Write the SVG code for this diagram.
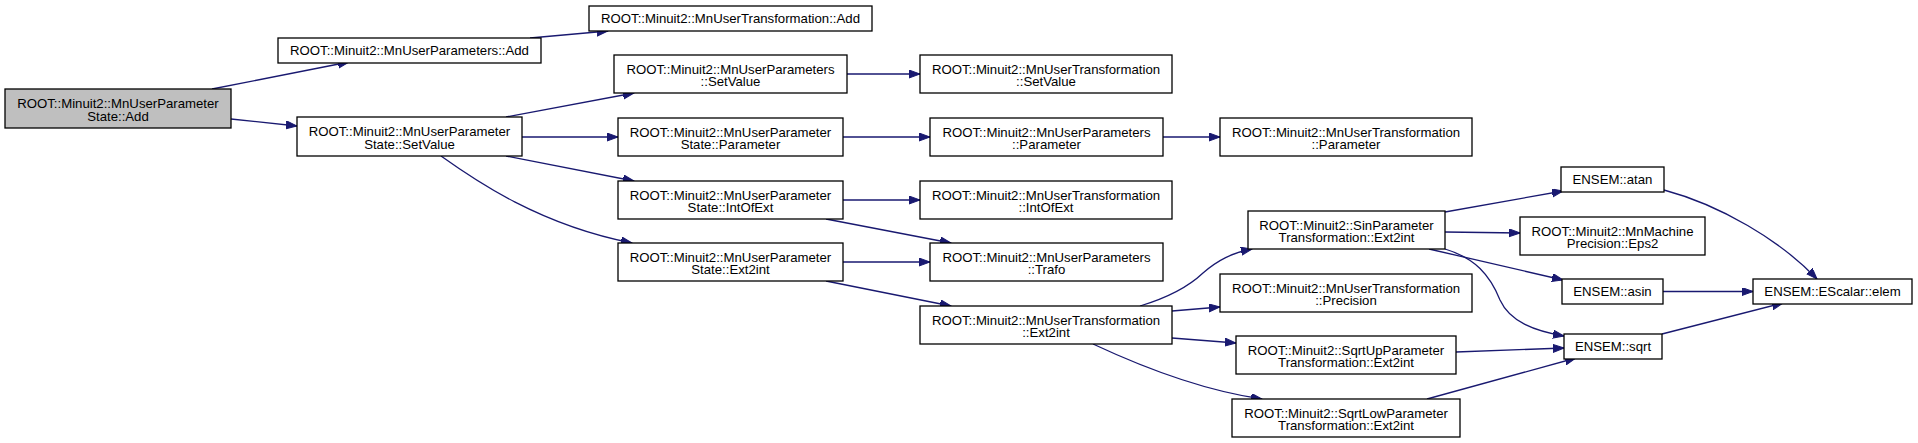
<svg xmlns="http://www.w3.org/2000/svg" width="1918" height="443" viewBox="0 0 1918 443">
<style>
.n rect{fill:#fff;stroke:#000;stroke-width:1.3}
.n.g rect{fill:#bfbfbf}
.n text{font-family:"Liberation Sans",Arial,Helvetica,sans-serif;font-size:13.2px;fill:#000;text-anchor:middle}
.e path{fill:none;stroke:#191970;stroke-width:1.3;marker-end:url(#ah)}
</style>
<defs>
<marker id="ah" markerUnits="userSpaceOnUse" markerWidth="12" markerHeight="9" refX="11" refY="4" orient="auto">
<path d="M0,0 L11,4 L0,8 z" fill="#191970" stroke="#191970" stroke-width="1"/>
</marker>
</defs>
<rect width="1918" height="443" fill="#fff"/>
<g id="edges" class="e">
<path d="M212,89 L349,62"/>
<path d="M231,119 L297,126"/>
<path d="M530,38 L608,31"/>
<path d="M506,117 L634,93"/>
<path d="M522,137 L618,137"/>
<path d="M506,156 L634,181"/>
<path d="M441,156 C476,181 540,225 632,243"/>
<path d="M847,74 L920,74"/>
<path d="M843,137 L930,137"/>
<path d="M1163,137 L1220,137"/>
<path d="M843,200 L920,200"/>
<path d="M826,219 L951,243"/>
<path d="M843,262 L930,262"/>
<path d="M826,281 L951,306"/>
<path d="M1140,306 C1160,300 1185,290 1203,273 C1218,260 1232,253 1252,249"/>
<path d="M1172,311 L1220,307"/>
<path d="M1172,338 L1236,343"/>
<path d="M1093,344 C1140,366 1200,390 1262,399"/>
<path d="M1445,212 L1563,191"/>
<path d="M1445,232 L1520,233"/>
<path d="M1429,249 L1563,280"/>
<path d="M1445,249 C1475,258 1490,275 1500,300 C1510,322 1535,331 1564,336"/>
<path d="M1664,190 C1720,205 1780,240 1817,279"/>
<path d="M1663,291.5 L1753,291.5"/>
<path d="M1662,334 L1783,303"/>
<path d="M1456,352 L1564,348"/>
<path d="M1427,399 L1576,358"/>
</g>
<g id="n_add" class="n g"><rect x="5" y="89" width="226" height="39"/><text x="118" y="108">ROOT::Minuit2::MnUserParameter</text><text x="118" y="120.5">State::Add</text></g>
<g id="n_params_add" class="n"><rect x="278" y="38" width="263" height="25"/><text x="409.5" y="55">ROOT::Minuit2::MnUserParameters::Add</text></g>
<g id="n_setvalue" class="n"><rect x="297" y="117" width="225" height="39"/><text x="409.5" y="136">ROOT::Minuit2::MnUserParameter</text><text x="409.5" y="148.5">State::SetValue</text></g>
<g id="n_trans_add" class="n"><rect x="589" y="6" width="283" height="25"/><text x="730.5" y="23">ROOT::Minuit2::MnUserTransformation::Add</text></g>
<g id="n_params_setvalue" class="n"><rect x="614" y="55" width="233" height="38"/><text x="730.5" y="73.5">ROOT::Minuit2::MnUserParameters</text><text x="730.5" y="86">::SetValue</text></g>
<g id="n_state_param" class="n"><rect x="618" y="118" width="225" height="38"/><text x="730.5" y="136.5">ROOT::Minuit2::MnUserParameter</text><text x="730.5" y="149">State::Parameter</text></g>
<g id="n_state_intofext" class="n"><rect x="618" y="181" width="225" height="38"/><text x="730.5" y="199.5">ROOT::Minuit2::MnUserParameter</text><text x="730.5" y="212">State::IntOfExt</text></g>
<g id="n_state_ext2int" class="n"><rect x="618" y="243" width="225" height="38"/><text x="730.5" y="261.5">ROOT::Minuit2::MnUserParameter</text><text x="730.5" y="274">State::Ext2int</text></g>
<g id="n_trans_setvalue" class="n"><rect x="920" y="55" width="252" height="38"/><text x="1046" y="73.5">ROOT::Minuit2::MnUserTransformation</text><text x="1046" y="86">::SetValue</text></g>
<g id="n_params_param" class="n"><rect x="930" y="118" width="233" height="38"/><text x="1046.5" y="136.5">ROOT::Minuit2::MnUserParameters</text><text x="1046.5" y="149">::Parameter</text></g>
<g id="n_trans_intofext" class="n"><rect x="920" y="181" width="252" height="38"/><text x="1046" y="199.5">ROOT::Minuit2::MnUserTransformation</text><text x="1046" y="212">::IntOfExt</text></g>
<g id="n_params_trafo" class="n"><rect x="930" y="243" width="233" height="38"/><text x="1046.5" y="261.5">ROOT::Minuit2::MnUserParameters</text><text x="1046.5" y="274">::Trafo</text></g>
<g id="n_trans_ext2int" class="n"><rect x="920" y="306" width="252" height="38"/><text x="1046" y="324.5">ROOT::Minuit2::MnUserTransformation</text><text x="1046" y="337">::Ext2int</text></g>
<g id="n_trans_param" class="n"><rect x="1220" y="118" width="252" height="38"/><text x="1346" y="136.5">ROOT::Minuit2::MnUserTransformation</text><text x="1346" y="149">::Parameter</text></g>
<g id="n_sin" class="n"><rect x="1248" y="211" width="197" height="38"/><text x="1346.5" y="229.5">ROOT::Minuit2::SinParameter</text><text x="1346.5" y="242">Transformation::Ext2int</text></g>
<g id="n_precision" class="n"><rect x="1220" y="274" width="252" height="38"/><text x="1346" y="292.5">ROOT::Minuit2::MnUserTransformation</text><text x="1346" y="305">::Precision</text></g>
<g id="n_sqrtup" class="n"><rect x="1236" y="336" width="220" height="38"/><text x="1346" y="354.5">ROOT::Minuit2::SqrtUpParameter</text><text x="1346" y="367">Transformation::Ext2int</text></g>
<g id="n_sqrtlow" class="n"><rect x="1232" y="399" width="228" height="38"/><text x="1346" y="417.5">ROOT::Minuit2::SqrtLowParameter</text><text x="1346" y="430">Transformation::Ext2int</text></g>
<g id="n_atan" class="n"><rect x="1561" y="167" width="103" height="25"/><text x="1612.5" y="184">ENSEM::atan</text></g>
<g id="n_eps2" class="n"><rect x="1520" y="217" width="185" height="38"/><text x="1612.5" y="235.5">ROOT::Minuit2::MnMachine</text><text x="1612.5" y="248">Precision::Eps2</text></g>
<g id="n_asin" class="n"><rect x="1562" y="279" width="101" height="25"/><text x="1612.5" y="296">ENSEM::asin</text></g>
<g id="n_sqrt" class="n"><rect x="1564" y="334" width="98" height="25"/><text x="1613" y="351">ENSEM::sqrt</text></g>
<g id="n_elem" class="n"><rect x="1753" y="279" width="159" height="25"/><text x="1832.5" y="296">ENSEM::EScalar::elem</text></g>
</svg>
